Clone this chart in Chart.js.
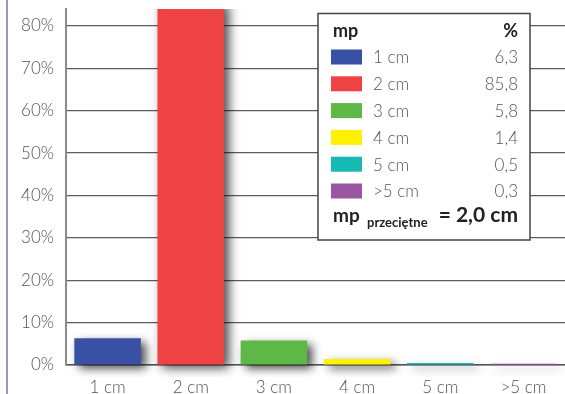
<!DOCTYPE html>
<html>
<head>
<meta charset="utf-8">
<script src="https://cdn.jsdelivr.net/npm/chart.js@4/dist/chart.umd.min.js"></script>
<style>
  html, body { margin: 0; padding: 0; background: #ffffff; }
  #wrap { position: relative; width: 565px; height: 394px; }
  #wrap::before { content: ""; position: absolute; left: 6px; top: 0; width: 2px; height: 394px; background: #9b98c9; }
  canvas { display: block; }
</style>
</head>
<body>
<div id="wrap"><canvas id="c" width="565" height="394"></canvas></div>
<script>
// Share of each category (per cent)
const categories = ['1 cm', '2 cm', '3 cm', '4 cm', '5 cm', '>5 cm'];
const shares = [6.3, 85.8, 5.8, 1.4, 0.5, 0.3];
const barColors = ['#3951a4', '#ef4244', '#5db846', '#fff100', '#17b9b3', '#9a55a2'];
const yTicks = [0, 10, 20, 30, 40, 50, 60, 70, 80];
const legendHeader = ['mp', '%'];
const averageValue = '2,0 cm';

const FONT = 'Lato, "Open Sans", sans-serif';
const fmt = v => v.toFixed(1).replace('.', ',');

// Soft drop shadow under the bars
const barShadow = {
  id: 'barShadow',
  beforeDatasetsDraw(chart) {
    const ctx = chart.ctx;
    ctx.save();
    ctx.shadowColor = 'rgba(0,0,0,0.7)';
    ctx.shadowBlur = 10;
    ctx.shadowOffsetX = 5;
    ctx.shadowOffsetY = 4;
  },
  afterDatasetsDraw(chart) {
    chart.ctx.restore();
  }
};

// Boxed key with the values and the average
const keyBox = {
  id: 'keyBox',
  afterDraw(chart) {
    const ctx = chart.ctx;
    const x0 = 318, y0 = 13.5, w = 212, h = 226.5;
    ctx.save();
    ctx.fillStyle = '#ffffff';
    ctx.fillRect(x0, y0, w, h);
    ctx.strokeStyle = '#444444';
    ctx.lineWidth = 1.5;
    ctx.strokeRect(x0, y0, w, h);

    const left = 333, right = 518;
    ctx.textBaseline = 'alphabetic';
    ctx.fillStyle = '#222222';
    ctx.font = 'bold 18px ' + FONT;
    ctx.textAlign = 'left';
    ctx.fillText(legendHeader[0], left, 37);
    ctx.textAlign = 'right';
    ctx.fillText(legendHeader[1], right, 37);

    const rowTop = 57, rowStep = 26.8;
    categories.forEach((cat, i) => {
      const cy = rowTop + i * rowStep;
      ctx.fillStyle = barColors[i];
      ctx.fillRect(331, cy - 7.5, 31, 15);
      ctx.fillStyle = '#555555';
      ctx.font = '300 17px ' + FONT;
      ctx.textBaseline = 'middle';
      ctx.textAlign = 'left';
      ctx.fillText(cat, 373, cy + 1);
      ctx.textAlign = 'right';
      ctx.fillText(fmt(shares[i]), right, cy + 1);
    });

    ctx.textBaseline = 'alphabetic';
    ctx.fillStyle = '#222222';
    ctx.textAlign = 'left';
    ctx.font = 'bold 19px ' + FONT;
    ctx.fillText('mp', left, 222);
    ctx.font = 'bold 13px ' + FONT;
    ctx.fillText('przeciętne', 367, 227);
    ctx.textAlign = 'right';
    ctx.font = 'bold 21px ' + FONT;
    ctx.fillText('= ' + averageValue, right, 222);
    ctx.restore();
  }
};

new Chart(document.getElementById('c'), {
  type: 'bar',
  data: {
    labels: categories,
    datasets: [{
      data: shares,
      backgroundColor: barColors,
      borderWidth: 0,
      barPercentage: 0.8,
      categoryPercentage: 1.0,
      clip: { left: 10, top: 0, right: 10, bottom: 12 }
    }]
  },
  options: {
    responsive: false,
    animation: false,
    layout: { padding: { top: 9, right: 0, left: 0, bottom: 0 } },
    plugins: {
      legend: { display: false },
      tooltip: { enabled: false }
    },
    scales: {
      x: {
        grid: { display: false },
        border: { display: true, color: '#555555', width: 1.5 },
        ticks: {
          color: '#555555',
          font: { family: FONT, size: 17, weight: '300' },
          padding: 4
        },
        afterFit(scale) { scale.height = 29; }
      },
      y: {
        min: 0,
        max: 84,
        afterBuildTicks(scale) { scale.ticks = yTicks.map(v => ({ value: v })); },
        grid: { color: '#5e5e5e', lineWidth: 1.2, tickLength: 0, drawTicks: false },
        border: { display: true, color: '#8a8a8a', width: 2 },
        ticks: {
          color: '#555555',
          font: { family: FONT, size: 17, weight: '300' },
          padding: 12,
          callback: v => v + '%'
        },
        afterFit(scale) {
          scale.width = 66;
          scale.paddingTop = 0;
          scale.paddingBottom = 0;
        }
      }
    }
  },
  plugins: [barShadow, keyBox]
});
</script>
</body>
</html>
